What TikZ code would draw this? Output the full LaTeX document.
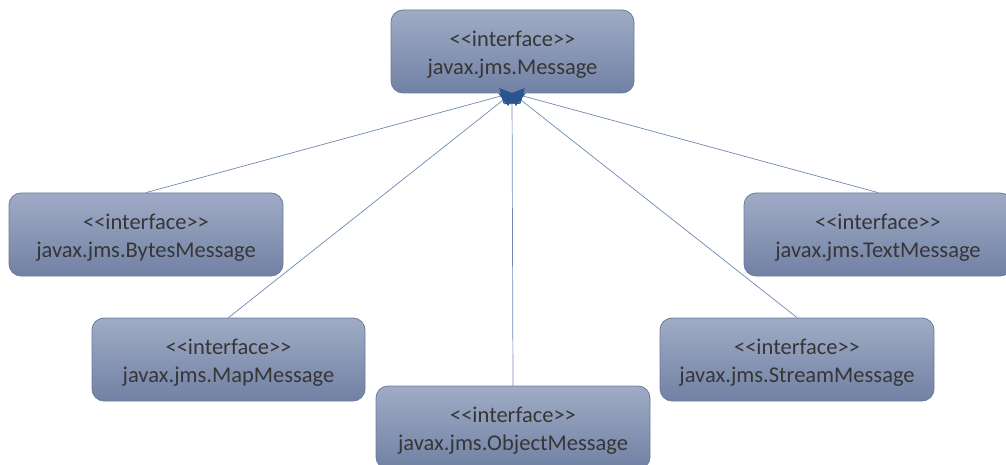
\documentclass[tikz,border=0pt]{standalone}
\usepackage{fontspec}
\setmainfont{Carlito}
\usetikzlibrary{arrows.meta}
\definecolor{boxtop}{HTML}{A0ACC6}
\definecolor{boxbot}{HTML}{7181A4}
\definecolor{boxedge}{HTML}{6A7A9C}
\definecolor{txt}{HTML}{363636}
\definecolor{linkc}{HTML}{7089B3}
\definecolor{headc}{HTML}{2B5490}
% stereotype line; the strut pushes the two text lines slightly down in the box
\newcommand{\stereo}{\rule{0pt}{22pt}<\kern0pt<interface>\kern0pt>}
\tikzset{
  iface/.style={draw=boxedge, line width=0.8pt, rounded corners=12pt,
    top color=boxtop, bottom color=boxbot, minimum height=83pt,
    text=txt, font=\fontsize{22.5}{28}\selectfont, align=center, inner sep=0pt},
  realize/.style={draw=linkc, line width=0.7pt,
    -{Triangle[length=11pt,width=16pt,fill=headc,color=headc]}},
}
\begin{document}
\begin{tikzpicture}[x=1pt,y=-1pt]
\useasboundingbox (0,0) rectangle (1006,465);
\begin{scope}
\clip (0,0) rectangle (1006,465);
\node[iface, minimum width=243pt] (msg) at (512.5,51.5) {\stereo\\javax.jms.Message};
\node[iface, minimum width=274pt] (bytes) at (146,234.5) {\stereo\\javax.jms.BytesMessage};
\node[iface, minimum width=268pt] (text) at (878,234.5) {\stereo\\javax.jms.TextMessage};
\node[iface, minimum width=273pt] (map) at (228.5,359.5) {\stereo\\javax.jms.MapMessage};
\node[iface, minimum width=274pt] (stream) at (797,359.5) {\stereo\\javax.jms.StreamMessage};
\node[iface, minimum width=274pt] (object) at (513,427.5) {\stereo\\javax.jms.ObjectMessage};
\coordinate (apex) at (512,93);
\draw[realize] (bytes.north) -- (apex);
\draw[realize] (map.north) -- (apex);
\draw[realize] (object.north) -- (apex);
\draw[realize] (stream.north) -- (apex);
\draw[realize] (text.north) -- (apex);
\end{scope}
\end{tikzpicture}
\end{document}
